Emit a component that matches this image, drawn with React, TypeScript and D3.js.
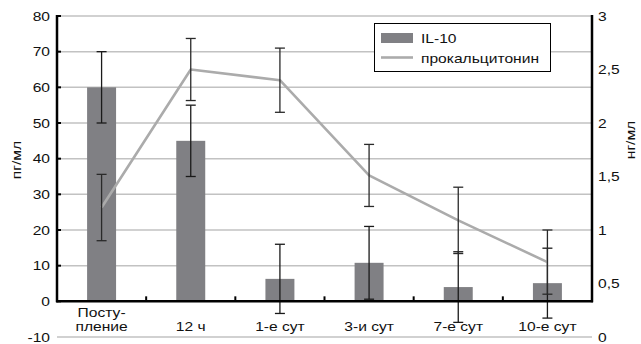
import React from "react";
import * as d3 from "d3";

const categories = ["Посту-\nпление", "12 ч", "1-е сут", "3-и сут", "7-е сут", "10-е сут"];
const il10 = [60, 45, 6.3, 10.8, 4.0, 5.1];
const il10Err = [10, 10, 9.7, 10.2, 9.9, 9.8];
const pct = [1.21, 2.5, 2.4, 1.51, 1.09, 0.7];
const pctErr = [0.31, 0.29, 0.3, 0.29, 0.31, 0.3];
const leftTicks = [-10, 0, 10, 20, 30, 40, 50, 60, 70, 80];
const rightTicks = [0, 0.5, 1, 1.5, 2, 2.5, 3];
const rightTickLabels = ["0", "0,5", "1", "1,5", "2", "2,5", "3"];
const legendLabels = ["IL-10", "прокальцитонин"];

const W = 641, H = 344;
const L = 57, R = 592, TOP = 16, BOT = 337;
const FONT = "'Liberation Sans', Arial, Helvetica, sans-serif";
const SX = 1.2;
const FS = 13;

function T({ x, y, anchor = "start", children, rotate = 0, fs = FS }: any) {
  const tr = rotate
    ? `translate(${x},${y}) rotate(${rotate}) scale(${SX},1)`
    : `translate(${x},${y}) scale(${SX},1)`;
  return (
    <text transform={tr} textAnchor={anchor} fontFamily={FONT} fontSize={fs} fill="#111">
      {children}
    </text>
  );
}

export default function App() {
  const x = d3.scaleBand<string>().domain(categories).range([L, R]).paddingInner(0).paddingOuter(0);
  const yL = d3.scaleLinear().domain([-10, 80]).range([BOT, TOP]);
  const yR = d3.scaleLinear().domain([0, 3]).range([BOT, TOP]);
  const bw = x.bandwidth();
  const barW = bw * 0.325;
  const cx = (c: string) => (x(c) as number) + bw / 2;
  const y0 = yL(0);

  const line = d3
    .line<number>()
    .x((_, i) => cx(categories[i]))
    .y((d) => yR(d));

  const cap = 5;
  const errBar = (xc: number, yTop: number, yBot: number, color: string, key: string) => (
    <g key={key} stroke={color} strokeWidth={1.3}>
      <line x1={xc} x2={xc} y1={yTop} y2={yBot} />
      <line x1={xc - cap} x2={xc + cap} y1={yTop} y2={yTop} />
      <line x1={xc - cap} x2={xc + cap} y1={yBot} y2={yBot} />
    </g>
  );

  return (
    <svg width={W} height={H} style={{ position: "absolute", left: 0, top: 0, background: "#fff" }}>
      {/* gridlines */}
      {leftTicks.map((t) => (
        <line key={"g" + t} x1={L} x2={R} y1={yL(t)} y2={yL(t)} stroke="#c2c2c2" strokeWidth={1.5} />
      ))}
      {/* bars */}
      {il10.map((v, i) => (
        <rect
          key={"b" + i}
          x={cx(categories[i]) - barW / 2}
          y={yL(v)}
          width={barW}
          height={y0 - yL(v)}
          fill="#808084"
        />
      ))}
      {/* bar error bars */}
      {il10.map((v, i) =>
        errBar(cx(categories[i]), yL(v + il10Err[i]), yL(v - il10Err[i]), "#1a1a1a", "be" + i)
      )}
      {/* line */}
      <path d={line(pct) || ""} fill="none" stroke="#ababab" strokeWidth={2.6} strokeLinejoin="round" />
      {pct.map((v, i) =>
        errBar(cx(categories[i]), yR(v + pctErr[i]), yR(v - pctErr[i]), "#2a2a2a", "le" + i)
      )}
      {/* axes */}
      <line x1={L} x2={L} y1={TOP - 1} y2={y0 + 1} stroke="#000" strokeWidth={2.5} />
      <line x1={R} x2={R} y1={TOP - 1} y2={y0 + 1} stroke="#000" strokeWidth={2.5} />
      <line x1={L - 1} x2={R + 1} y1={y0} y2={y0} stroke="#000" strokeWidth={2.5} />
      {categories.slice(1).map((c) => (
        <line key={"xt" + c} x1={x(c) as number} x2={x(c) as number} y1={y0 - 5} y2={y0} stroke="#000" strokeWidth={2} />
      ))}
      {leftTicks
        .filter((t) => t >= 0)
        .map((t) => (
          <line key={"lt" + t} x1={L} x2={L + 4} y1={yL(t)} y2={yL(t)} stroke="#000" strokeWidth={2} />
        ))}
      {/* left tick labels */}
      {leftTicks.map((t) => (
        <T key={"ll" + t} x={50} y={yL(t) + 4.8} anchor="end">
          {String(t)}
        </T>
      ))}
      {/* right tick labels */}
      {rightTicks.map((t, i) => (
        <T key={"rl" + t} x={598} y={yR(t) + 4.8} anchor="start">
          {rightTickLabels[i]}
        </T>
      ))}
      {/* category labels */}
      {categories.map((c) => {
        const lines = c.split("\n");
        const base = 331;
        return lines.map((ln, j) => (
          <T key={c + j} x={cx(c)} y={base - (lines.length - 1 - j) * 14} anchor="middle">
            {ln}
          </T>
        ));
      })}
      {/* axis titles */}
      <T x={21} y={160} anchor="middle" rotate={-90}>
        пг/мл
      </T>
      <T x={635} y={140} anchor="middle" rotate={-90}>
        нг/мл
      </T>
      {/* legend */}
      <rect x={374.5} y={23.5} width={176} height={48} fill="#fff" stroke="#000" strokeWidth={1} />
      <rect x={381} y={33} width={32} height={10} fill="#808084" />
      <line x1={381} x2={413} y1={57.5} y2={57.5} stroke="#ababab" strokeWidth={2.6} />
      <T x={421} y={43}>{legendLabels[0]}</T>
      <T x={421} y={63}>{legendLabels[1]}</T>
    </svg>
  );
}
